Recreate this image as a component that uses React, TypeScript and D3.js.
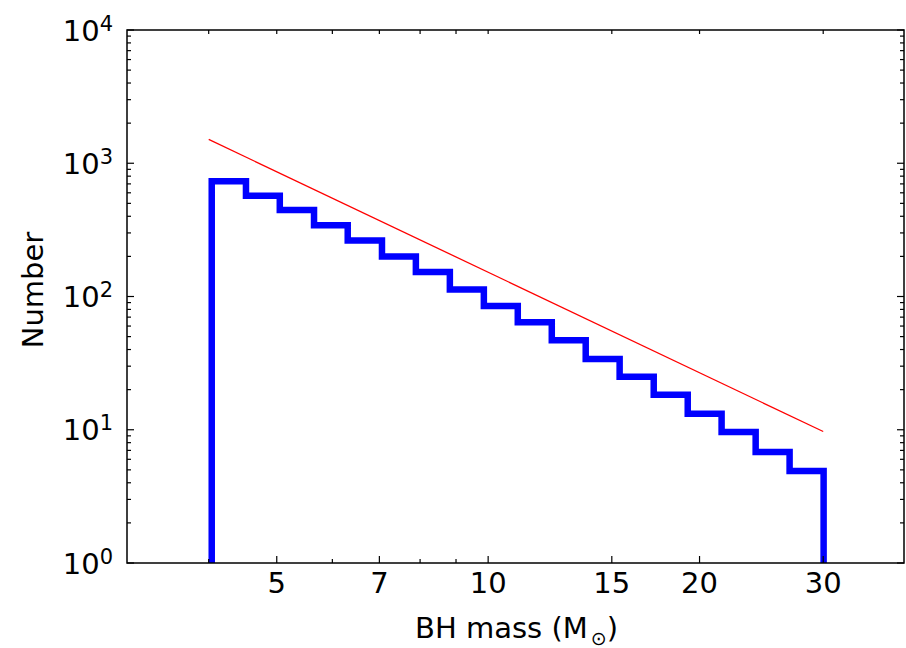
import React from "react";
import * as d3 from "d3";

// Histogram bin edges (BH mass, solar masses) and counts
const massEdges = [4.04, 4.52, 5.05, 5.65, 6.31, 7.06, 7.89, 8.82, 9.86, 11.02, 12.32, 13.77, 15.39, 17.21, 19.24, 21.5, 24.04, 26.87, 30.04];
const counts = [732, 570, 446, 342, 263, 200, 153, 113, 85, 64, 47, 34, 25, 18.3, 13.2, 9.6, 6.8, 4.9];

// Red power-law reference line endpoints
const fitMass = [4.0, 30.0];
const fitCount = [1510, 9.7];

// Axis ticks
const xTickLabels = [5, 7, 10, 15, 20, 30];
const xMinorTicks = [4, 6, 8, 9];
const yDecades = [0, 1, 2, 3, 4];

const W = 906;
const H = 648;
const L = 127, R = 904, T = 30, B = 563;
const FONT = "DejaVu Sans, sans-serif";

export default function App() {
  const x = d3.scaleLog().domain([3.06, 39.1]).range([L, R]);
  const y = d3.scaleLog().domain([1, 1e4]).range([B, T]);

  // Step histogram outline
  const pts: [number, number][] = [];
  pts.push([massEdges[0], 0.5]);
  counts.forEach((c, i) => {
    pts.push([massEdges[i], c]);
    pts.push([massEdges[i + 1], c]);
  });
  pts.push([massEdges[massEdges.length - 1], 0.5]);
  const stepLine = d3
    .line<[number, number]>()
    .x((d) => x(d[0]))
    .y((d) => y(d[1]));

  const fitLine = d3
    .line<number>()
    .x((_, i) => x(fitMass[i]))
    .y((_, i) => y(fitCount[i]));

  const yMinor: number[] = [];
  for (let e = 0; e < 4; e++) for (let k = 2; k <= 9; k++) yMinor.push(k * Math.pow(10, e));

  const major = 7, minor = 4;

  return (
    <svg width={W} height={H} style={{ position: "absolute", left: 0, top: 0, background: "#fff" }} fontFamily={FONT}>
      <defs>
        <clipPath id="plotclip">
          <rect x={L} y={T} width={R - L} height={B - T} />
        </clipPath>
      </defs>
      <rect x={0} y={0} width={W} height={H} fill="#fff" />

      <g clipPath="url(#plotclip)">
        <path d={fitLine(fitMass) || ""} fill="none" stroke="#ff0000" strokeWidth={1.3} />
        <path d={stepLine(pts) || ""} fill="none" stroke="#0000ff" strokeWidth={6.5} strokeLinejoin="miter" />
      </g>

      {/* ticks */}
      <g stroke="#000" strokeWidth={1.2}>
        {xTickLabels.map((v) => (
          <g key={"xt" + v}>
            <line x1={x(v)} x2={x(v)} y1={B} y2={B - major} />
            <line x1={x(v)} x2={x(v)} y1={T} y2={T + minor} />
          </g>
        ))}
        {xMinorTicks.map((v) => (
          <g key={"xm" + v}>
            <line x1={x(v)} x2={x(v)} y1={B} y2={B - minor} />
            <line x1={x(v)} x2={x(v)} y1={T} y2={T + minor} />
          </g>
        ))}
        {yDecades.map((e) => (
          <g key={"yt" + e}>
            <line x1={L} x2={L + major} y1={y(Math.pow(10, e))} y2={y(Math.pow(10, e))} />
            <line x1={R} x2={R - major} y1={y(Math.pow(10, e))} y2={y(Math.pow(10, e))} />
          </g>
        ))}
        {yMinor.map((v, i) => (
          <g key={"ym" + i}>
            <line x1={L} x2={L + minor} y1={y(v)} y2={y(v)} />
            <line x1={R} x2={R - minor} y1={y(v)} y2={y(v)} />
          </g>
        ))}
      </g>

      {/* frame */}
      <rect x={L} y={T} width={R - L} height={B - T} fill="none" stroke="#000" strokeWidth={1.5} />

      {/* x tick labels */}
      {xTickLabels.map((v) => (
        <text key={"xl" + v} x={x(v)} y={B + 30} textAnchor="middle" fontSize={29} fill="#000">
          {v}
        </text>
      ))}

      {/* y tick labels */}
      {yDecades.map((e) => (
        <text key={"yl" + e} x={L - 14} y={y(Math.pow(10, e)) + 10.5} textAnchor="end" fontSize={29} fill="#000">
          10
          <tspan fontSize={21} dy={-10}>
            {e}
          </tspan>
        </text>
      ))}

      {/* axis labels */}
      <text x={(L + R) / 2 + 1} y={638} textAnchor="middle" fontSize={29} fill="#000">
        BH mass (M
        <tspan fontSize={19} dx={3} dy={7}>
          ⊙
        </tspan>
        <tspan dy={-7}>)</tspan>
      </text>
      <text transform={`translate(43,290) rotate(-90)`} textAnchor="middle" fontSize={29} fill="#000">
        Number
      </text>
    </svg>
  );
}
